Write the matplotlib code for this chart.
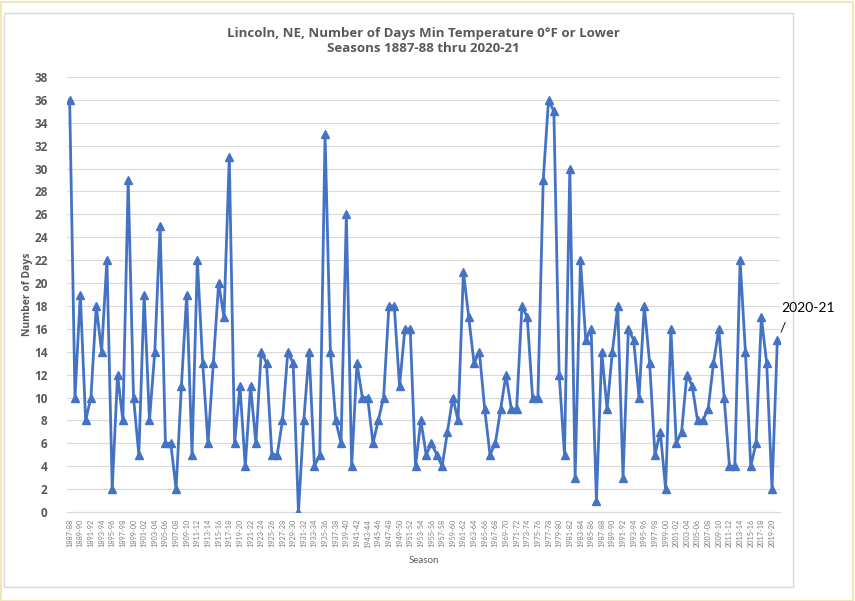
import matplotlib
matplotlib.use("Agg")
import matplotlib.pyplot as plt
from matplotlib.patches import Rectangle

start_years = list(range(1887, 2021))
seasons = [f"{y}-{str(y + 1)[-2:]}" for y in start_years]

days = [36, 10, 19, 8, 10, 18, 14, 22, 2, 12, 8, 29, 10, 5, 19, 8, 14, 25, 6,
        6, 2, 11, 19, 5, 22, 13, 6, 13, 20, 17, 31, 6, 11, 4, 11, 6, 14, 13, 5, 5, 8, 14,
        13, 0, 8, 14, 4, 5, 33, 14, 8, 6, 26, 4, 13, 10, 10, 6, 8, 10, 18, 18, 11, 16,
        16, 4, 8, 5, 6, 5, 4, 7, 10, 8, 21, 17, 13, 14, 9, 5, 6, 9, 12, 9, 9, 18,
        17, 10, 10, 29, 36, 35, 12, 5, 30, 3, 22, 15, 16, 1, 14, 9, 14, 18, 3, 16, 15, 10, 18,
        13, 5, 7, 2, 16, 6, 7, 12, 11, 8, 8, 9, 13, 16, 10, 4, 4, 22, 14, 4, 6, 17, 13, 2, 15]

yticks = list(range(0, 40, 2))
title = "Lincoln, NE, Number of Days Min Temperature 0°F or Lower\nSeasons 1887-88 thru 2020-21"

plt.rcParams['font.family'] = ['Open Sans', 'DejaVu Sans']
gray = '#595959'
W, H = 855, 601
fig = plt.figure(figsize=(W / 100, H / 100), dpi=100)

# outer yellow frame and chart-area box
fig.patches.append(Rectangle((0.5 / W, 0.5 / H), (W - 3) / W, (H - 2) / H, transform=fig.transFigure,
                             fill=False, edgecolor='#f3e3a6', linewidth=1.2))
fig.patches.append(Rectangle((4 / W, 1 - 587 / H), (793 - 4) / W, (587 - 13) / H, transform=fig.transFigure,
                             fill=False, edgecolor='#d9d9d9', linewidth=1.0))

ax = fig.add_axes([67 / W, 1 - 512 / H, (780 - 67) / W, (512 - 77) / H])
x = list(range(len(days)))
ax.plot(x, days, color='#4472C4', linewidth=2.0, marker='^', markersize=5.5,
        markerfacecolor='#4472C4', markeredgecolor='#4472C4', zorder=3)

ax.set_xlim(-0.5, len(days) - 0.5)
ax.set_ylim(0, 38)
ax.set_yticks(yticks)
ax.set_yticklabels([str(t) for t in yticks], fontsize=8.5, fontweight='bold', color=gray)
ax.set_xticks(x[::2])
ax.set_xticklabels(seasons[::2], rotation=90, fontsize=5.3, color='#7f7f7f',
                   family=['Lato', 'DejaVu Sans'])
ax.tick_params(axis='both', length=0)
ax.tick_params(axis='y', pad=14)
ax.tick_params(axis='x', pad=5)
ax.grid(axis='y', color='#d9d9d9', linewidth=0.8)
ax.set_axisbelow(True)
for s in ['left', 'right', 'top']:
    ax.spines[s].set_visible(False)
ax.spines['bottom'].set_color('#d9d9d9')
ax.spines['bottom'].set_linewidth(0.8)

ax.set_ylabel("Number of Days", fontsize=7.5, fontweight='bold', color=gray)
ax.yaxis.set_label_coords((33 - 67) / 713, 0.5)
ax.set_xlabel("Season", fontsize=7, color=gray, labelpad=6, family=['Lato', 'DejaVu Sans'])

fig.text(423 / W, 1 - 41 / H, title, ha='center', va='center', fontsize=9.5,
         fontweight='bold', color=gray, linespacing=1.3)

fig.text(808 / W, 1 - 308 / H, "2020-21", ha='center', va='center', fontsize=10, color='black',
         family=['Lato', 'DejaVu Sans'])
fig.text(783 / W, 1 - 328 / H, "/", ha='center', va='center', fontsize=10, color='black',
         family=['Lato', 'DejaVu Sans'])

fig.savefig("out.png", dpi=100)
